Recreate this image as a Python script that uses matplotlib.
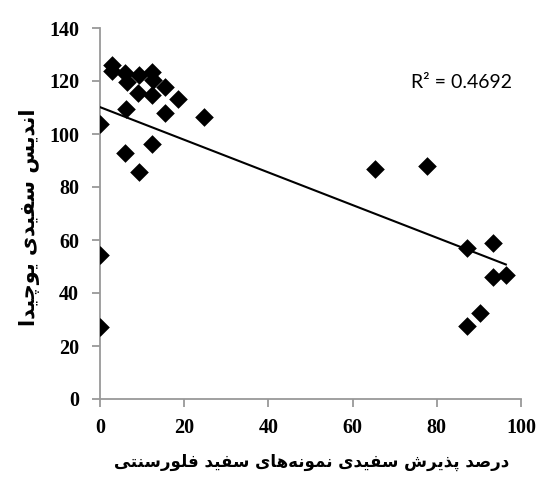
import numpy as np
import matplotlib
matplotlib.use("Agg")
import matplotlib.pyplot as plt

# ---- data ----
x_vals = [0, 0, 0,
          2.9, 2.8, 5.9, 6.4, 9.3, 12.4, 12.6, 15.4, 9.0, 12.4,
          6.2, 5.9, 9.3, 12.4, 15.4, 18.5, 24.7,
          65.3, 77.7, 87.2, 93.3, 93.3, 96.4, 90.3, 87.2]
y_vals = [103.8, 54.3, 27.2,
          126.0, 123.8, 123.0, 119.6, 122.3, 123.4, 120.4, 117.7, 115.5, 114.7,
          109.4, 92.8, 85.7, 96.2, 107.9, 113.2, 106.4,
          86.8, 87.9, 57.0, 58.9, 46.0, 46.8, 32.5, 27.5]
x_ticks = [0, 20, 40, 60, 80, 100]
y_ticks = [0, 20, 40, 60, 80, 100, 120, 140]
r2_label = "R² = 0.4692"
x_label = "درصد پذیرش سفیدی نمونه‌های سفید فلورسنتی"
y_label = "اندیس سفیدی یوچیدا"

# ---- minimal Persian shaping (presentation forms + RTL) ----
FORMS = {  # iso, fin, ini, med
    'ا': ('\uFE8D', '\uFE8E', None, None),
    'ب': ('\uFE8F', '\uFE90', '\uFE91', '\uFE92'),
    'ت': ('\uFE95', '\uFE96', '\uFE97', '\uFE98'),
    'د': ('\uFEA9', '\uFEAA', None, None),
    'ذ': ('\uFEAB', '\uFEAC', None, None),
    'ر': ('\uFEAD', '\uFEAE', None, None),
    'ز': ('\uFEAF', '\uFEB0', None, None),
    'س': ('\uFEB1', '\uFEB2', '\uFEB3', '\uFEB4'),
    'ش': ('\uFEB5', '\uFEB6', '\uFEB7', '\uFEB8'),
    'ص': ('\uFEB9', '\uFEBA', '\uFEBB', '\uFEBC'),
    'ف': ('\uFED1', '\uFED2', '\uFED3', '\uFED4'),
    'ل': ('\uFEDD', '\uFEDE', '\uFEDF', '\uFEE0'),
    'م': ('\uFEE1', '\uFEE2', '\uFEE3', '\uFEE4'),
    'ن': ('\uFEE5', '\uFEE6', '\uFEE7', '\uFEE8'),
    'ه': ('\uFEE9', '\uFEEA', '\uFEEB', '\uFEEC'),
    'و': ('\uFEED', '\uFEEE', None, None),
    'ی': ('\uFBFC', '\uFBFD', '\uFBFE', '\uFBFF'),
    'پ': ('\uFB56', '\uFB57', '\uFB58', '\uFB59'),
    'چ': ('\uFB7A', '\uFB7B', '\uFB7C', '\uFB7D'),
}


def dual(c):
    return c in FORMS and FORMS[c][2] is not None


def shape(text):
    out = []
    n = len(text)
    for i, c in enumerate(text):
        if c not in FORMS:
            if c != '\u200c':
                out.append(c)
            continue
        prev = text[i - 1] if i > 0 else ''
        nxt = text[i + 1] if i + 1 < n else ''
        jp = dual(prev)
        jn = dual(c) and nxt in FORMS
        iso, fin, ini, med = FORMS[c]
        if jp and jn:
            g = med
        elif jp:
            g = fin
        elif jn:
            g = ini
        else:
            g = iso
        out.append(g)
    return ''.join(reversed(out))


fig = plt.figure(figsize=(5.4, 4.79), dpi=100)
ax = fig.add_axes([100 / 540, 1 - 399 / 479, 421 / 540, 371 / 479])

ax.scatter(x_vals, y_vals, marker='D', s=9.5 ** 2, color='black',
           linewidths=0, zorder=3)

coef = np.polyfit(x_vals, y_vals, 1)
xl = np.array([0, max(x_vals)])
ax.plot(xl, np.polyval(coef, xl), color='black', lw=1.5, zorder=2)

ax.set_xlim(0, 100)
ax.set_ylim(0, 140)
ax.set_xticks(x_ticks)
ax.set_yticks(y_ticks)
for s in ['top', 'right']:
    ax.spines[s].set_visible(False)
for s in ['left', 'bottom']:
    ax.spines[s].set_color('#999999')
    ax.spines[s].set_linewidth(1.3)
ax.spines['left'].set_zorder(1)
ax.tick_params(axis='both', direction='out', length=6, width=1.3,
               color='#999999')
ax.tick_params(axis='y', pad=9)
ax.tick_params(axis='x', pad=8)
for lab in ax.get_xticklabels() + ax.get_yticklabels():
    lab.set_fontfamily('Liberation Serif')
    lab.set_fontweight('bold')
    lab.set_fontsize(14.5)

fig.text(411 / 540, 1 - 82 / 479, r2_label, fontsize=14, family='Lato',
         va='center', ha='left')

fig.text(312 / 540, 1 - 462 / 479, shape(x_label), fontsize=12,
         family=['DejaVu Sans'], fontweight='bold', ha='center', va='center')
fig.text(30 / 540, 1 - 217 / 479, shape(y_label), fontsize=15,
         family=['DejaVu Sans'], fontweight='bold', ha='center', va='center',
         rotation=90)

fig.savefig('out.png', dpi=100)
